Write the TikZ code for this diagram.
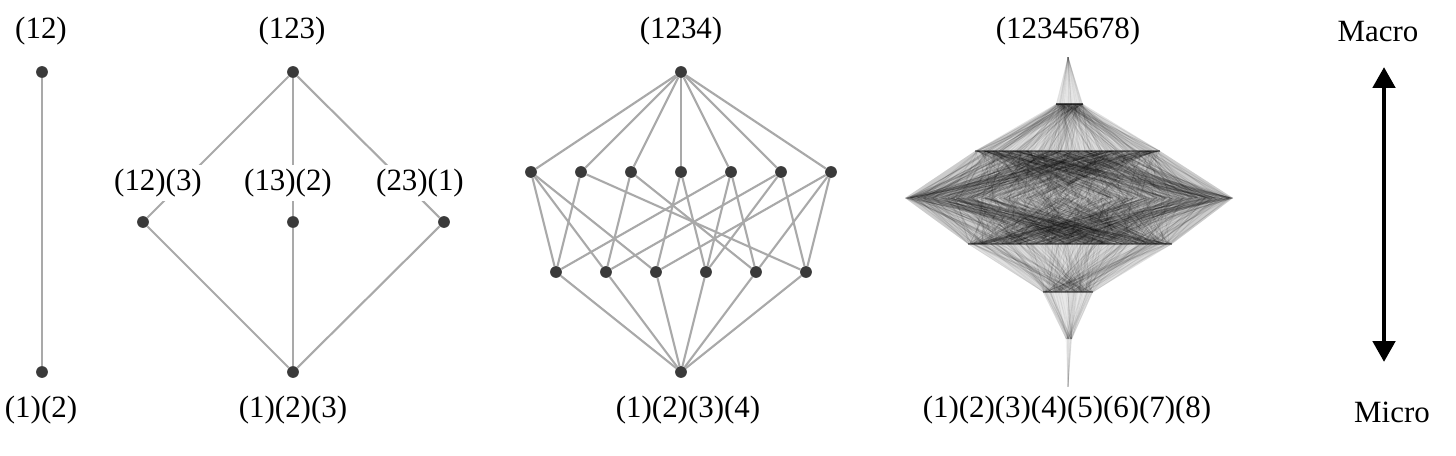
\documentclass[tikz,border=0pt]{standalone}
\usepackage{fontspec}
\setmainfont{Liberation Serif}
\usetikzlibrary{positioning,arrows.meta}
\definecolor{dotgray}{HTML}{3A3A3A}
\definecolor{edgegray}{HTML}{A9A9A9}

\begin{document}
\begin{tikzpicture}[x=0.02cm,y=-0.02cm,
  dot/.style={circle,fill=dotgray,inner sep=0pt,minimum size=0.235cm},
  lbl/.style={inner sep=0pt,font=\fontsize{17.6}{20}\selectfont},
  cut/.style={lbl,fill=white,inner sep=2pt},
  link/.style={draw=edgegray,line width=1.2pt},
  ray/.style={draw=black,line width=0.5pt,opacity=#1},
  band/.style={fill=black,fill opacity=#1},
  rim/.style={draw=black,opacity=#1,line width=1pt},
  bigarr/.style={{Triangle[length=4.2mm,width=4.4mm]}-{Triangle[length=4.2mm,width=4.4mm]},line width=2.8pt}
]
\useasboundingbox (0,0) rectangle (1456,456);

% two elements
\node[dot] (a1) at (42,72) {};
\node[dot] (a0) at (42,372) {};
\draw[link] (a1)--(a0);
\node[lbl] (a1l) at (41,31) {(12)};
\node[lbl] (a0l) at (41,410) {(1)(2)};

% three elements
\node[dot] (b2) at (293,72) {};
\node[dot] (bx) at (143,222) {};
\node[dot] (by) at (293,222) {};
\node[dot] (bz) at (444,222) {};
\node[dot] (b0) at (293,372) {};
\foreach \m in {bx,by,bz}{
  \draw[link] (b2)--(\m);
  \draw[link] (\m)--(b0);
}
\node[cut] (bxl) at (158,183) {(12)(3)};
\node[cut] (byl) at (288,183) {(13)(2)};
\node[cut] (bzl) at (420,183) {(23)(1)};
\node[lbl] (b2l) at (292,31) {(123)};
\node[lbl] (b0l) at (293,410) {(1)(2)(3)};

% four elements
\node[dot] (c3) at (681,72) {};
\foreach \i in {1,...,7}
  \node[dot] (m\i) at ({481+50*\i},172) {};
\foreach \i in {1,...,6}
  \node[dot] (k\i) at ({506+50*\i},272) {};
\node[dot] (c0) at (681,372) {};
\foreach \i in {1,...,7}
  \draw[link] (c3)--(m\i);
\foreach \i in {1,...,6}
  \draw[link] (k\i)--(c0);
\foreach \i/\j in {1/1,1/2,1/3,2/1,2/6,3/2,3/5,4/3,4/4,
                   5/1,5/4,5/5,6/2,6/4,6/6,7/3,7/5,7/6}
  \draw[link] (m\i)--(k\j);
\node[lbl] (c3l) at (681,31) {(1234)};
\node[lbl] (c0l) at (688,410) {(1)(2)(3)(4)};

% eight elements (edges only, as a texture)
\pgfmathsetseed{7}
\foreach \ya/\ua/\va/\yb/\ub/\vb/\n/\op/\sh in {
    57/1068/1068/104/1056/1083/40/0.04/0.07,
    104/1056/1083/151/975/1160/300/0.06/0.12,
    151/975/1160/198/905/1233/700/0.09/0.2,
    198/905/1233/244/968/1172/700/0.09/0.2,
    244/968/1172/292/1043/1093/300/0.06/0.12,
    292/1043/1093/339/1066/1072/60/0.05/0.09,
    339/1066/1072/387/1068/1068/15/0.04/0.02}{
  \fill[band=\sh] (\ua,\ya)--(\va,\ya)--(\vb,\yb)--(\ub,\yb)--cycle;
  \foreach \i in {1,...,\n}
    \draw[ray=\op] ({\ua+(\va-\ua)*rnd},\ya)--({\ub+(\vb-\ub)*rnd},\yb);
}
\draw[rim=0.6,line width=1.6pt] (1056,104)--(1083,104);
\draw[rim=0.4] (975,151)--(1160,151);
\draw[rim=0.4] (968,244)--(1172,244);
\draw[rim=0.45,line width=1.4pt] (1043,292)--(1093,292);
\node[lbl] (d7l) at (1068,31) {(12345678)};
\node[lbl] (d0l) at (1067,410) {(1)(2)(3)(4)(5)(6)(7)(8)};

% scale arrow
\coordinate (up) at (1384,67);
\coordinate (dn) at (1384,362);
\draw[bigarr] (up)--(dn);
\node[lbl] (macro) at (1378,32) {Macro};
\node[lbl] (micro) at (1392,412) {Micro};
\end{tikzpicture}
\end{document}
